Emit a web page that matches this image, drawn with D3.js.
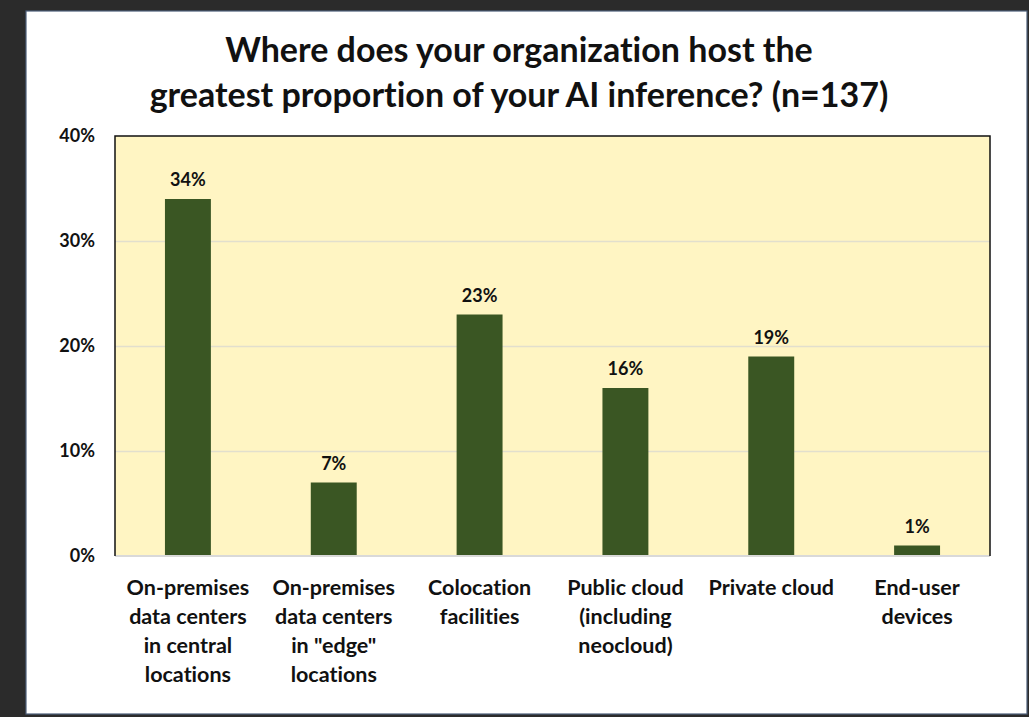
<!DOCTYPE html>
<html>
<head>
<meta charset="utf-8">
<script src="https://cdn.jsdelivr.net/npm/d3@7"></script>
<style>
  html, body { margin: 0; padding: 0; background: #2b2b2b; }
  svg { display: block; }
  text { font-family: Lato, "Open Sans", sans-serif; font-weight: bold; fill: #111; font-variant-ligatures: none; }
</style>
</head>
<body>
<div id="vis"></div>
<script>
// ── DATA ───────────────────────────────────────────────────────────────────────
const titleLines = [
  "Where does your organization host the",
  "greatest proportion of your AI inference? (n=137)"
];
const categories = [
  "On-premises|data centers|in central|locations",
  "On-premises|data centers|in \"edge\"|locations",
  "Colocation|facilities",
  "Public cloud|(including|neocloud)",
  "Private cloud",
  "End-user|devices"
];
const values = [34, 7, 23, 16, 19, 1];
const yTicks = [0, 10, 20, 30, 40];

// ── LAYOUT ─────────────────────────────────────────────────────────────────────
const width  = 1029;
const height = 717;
const plotLeft = 115, plotRight = 990, plotTop = 136, plotBottom = 556;
const barColor = "#3a5623";
const plotFill = "#fff5c3";

const svg = d3.select("#vis").append("svg")
    .attr("width", width)
    .attr("height", height);

// card
svg.append("rect")
    .attr("x", 26).attr("y", 11)
    .attr("width", 1001).attr("height", 703)
    .attr("fill", "#ffffff")
    .attr("stroke", "#4d5f7a")
    .attr("stroke-width", 1.2);

// title
svg.append("text")
    .attr("text-anchor", "middle")
    .style("font-size", "34px")
    .selectAll("tspan")
    .data(titleLines)
    .join("tspan")
    .attr("x", 519)
    .attr("y", (d, i) => 62 + i * 45)
    .text(d => d);

// scales
const x = d3.scaleBand()
    .domain(categories)
    .range([plotLeft, plotRight])
    .paddingInner(0.685)
    .paddingOuter(0.3425);

const y = d3.scaleLinear()
    .domain([0, 40])
    .range([plotBottom, plotTop]);

// plot background
svg.append("rect")
    .attr("x", plotLeft).attr("y", plotTop)
    .attr("width", plotRight - plotLeft)
    .attr("height", plotBottom - plotTop)
    .attr("fill", plotFill);

// gridlines
svg.append("g")
    .attr("transform", `translate(${plotLeft},0)`)
    .call(d3.axisLeft(y).tickValues(yTicks.slice(1, -1)).tickSize(-(plotRight - plotLeft)).tickFormat(""))
    .call(g => g.select(".domain").remove())
    .call(g => g.selectAll(".tick line").attr("stroke", "#e2dfcd").attr("stroke-width", 1.5));

// y axis labels
svg.append("g")
    .attr("transform", `translate(${plotLeft},0)`)
    .call(d3.axisLeft(y).tickValues(yTicks).tickSize(0).tickPadding(20).tickFormat(d => d + "%"))
    .call(g => g.select(".domain").remove())
    .call(g => g.selectAll(".tick text")
      .style("font-family", "Lato, sans-serif")
      .style("font-weight", "bold")
      .style("font-size", "18px")
      .attr("fill", "#111"));

// bars
svg.append("g")
  .selectAll("rect")
  .data(values)
  .join("rect")
    .attr("x", (d, i) => x(categories[i]))
    .attr("y", d => y(d))
    .attr("width", x.bandwidth())
    .attr("height", d => y(0) - y(d))
    .attr("fill", barColor);

// value labels
svg.append("g")
    .attr("text-anchor", "middle")
    .style("font-size", "18px")
  .selectAll("text")
  .data(values)
  .join("text")
    .attr("x", (d, i) => x(categories[i]) + x.bandwidth() / 2)
    .attr("y", d => y(d) - 13)
    .text(d => d + "%");

// x axis line
svg.append("line")
    .attr("x1", plotLeft).attr("x2", plotRight)
    .attr("y1", plotBottom).attr("y2", plotBottom)
    .attr("stroke", "#d9d9d9")
    .attr("stroke-width", 2);

// plot border: left, top, right
svg.append("path")
    .attr("d", `M${plotLeft},${plotBottom}V${plotTop}H${plotRight}V${plotBottom}`)
    .attr("fill", "none")
    .attr("stroke", "#111")
    .attr("stroke-width", 1.5);

// category labels
svg.append("g")
    .attr("text-anchor", "middle")
    .style("font-size", "21.5px")
  .selectAll("text")
  .data(categories)
  .join("text")
    .attr("transform", d => `translate(${x(d) + x.bandwidth() / 2},595)`)
    .selectAll("tspan")
    .data(d => d.split("|"))
    .join("tspan")
      .attr("x", 0)
      .attr("y", (d, i) => i * 29)
      .text(d => d);
</script>
</body>
</html>
